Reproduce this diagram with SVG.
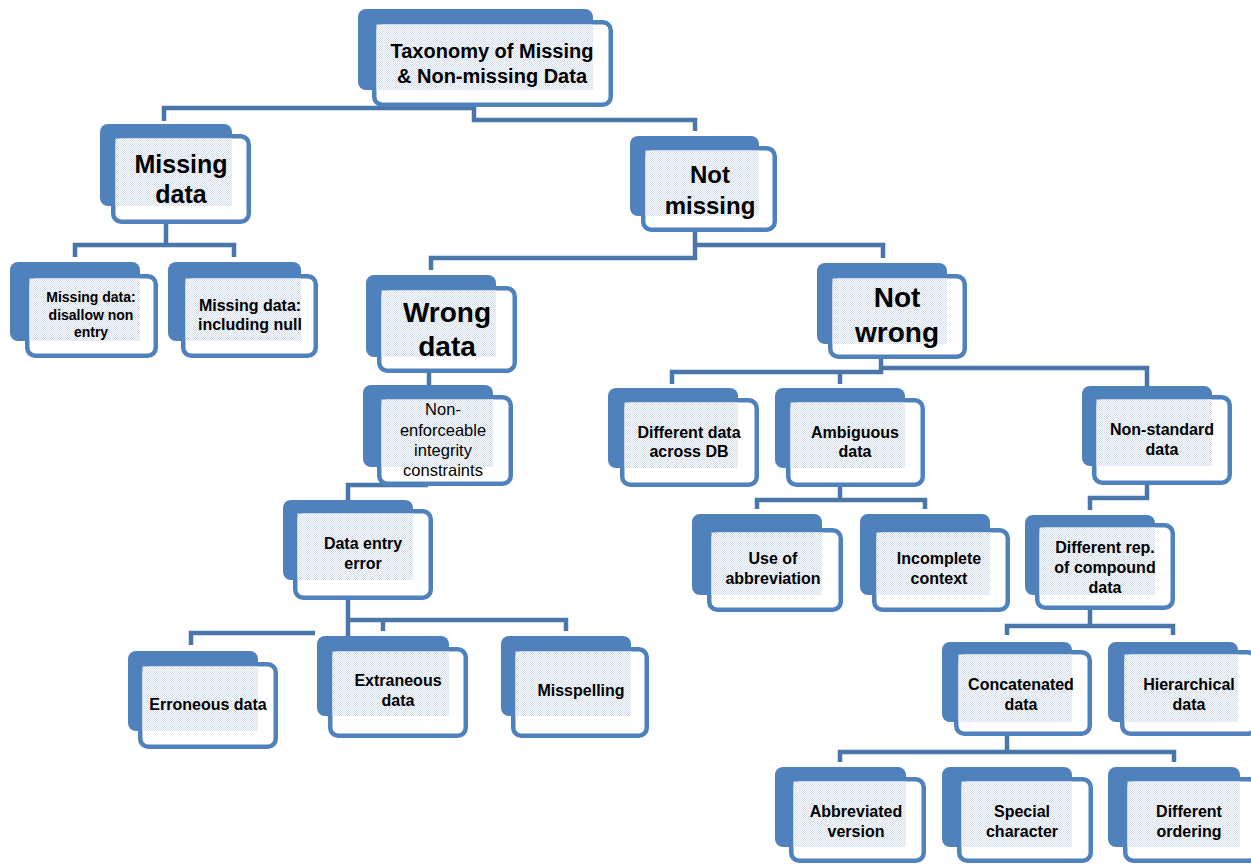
<svg xmlns="http://www.w3.org/2000/svg" width="1251" height="865" viewBox="0 0 1251 865">
<defs>
<pattern id="dots" width="2" height="2" patternUnits="userSpaceOnUse">
<rect width="2" height="2" fill="#ffffff"/>
<rect width="1" height="1" fill="#cfdaeb"/>
<rect x="1" y="1" width="1" height="1" fill="#cfdaeb"/>
</pattern>
<style>
.bk{fill:#4f81bd}
.fr{fill:#ffffff;stroke:#4f81bd;stroke-width:4.5}
.pt{fill:url(#dots)}
.t{font-family:"Liberation Sans",Arial,sans-serif;font-weight:bold;text-anchor:middle;fill:#000}
.r{font-weight:normal}
.c{fill:none;stroke:#4a76aa;stroke-width:4.5;stroke-linejoin:miter}
</style>
</defs>
<rect width="1251" height="865" fill="#ffffff"/>
<g id="connectors">
<path class="c" d="M164,121 V108 H474"/>
<path class="c" d="M474,106 V120 H695 V131"/>
<path class="c" d="M166,222 V245"/>
<path class="c" d="M75,257 V245 H234 V257"/>
<path class="c" d="M695,230 V258 H431 V270"/>
<path class="c" d="M695,245 H883 V258"/>
<path class="c" d="M429,371 V387"/>
<path class="c" d="M881,357 V372 H672 V384"/>
<path class="c" d="M840,372 V384"/>
<path class="c" d="M881,368 H1147 V388"/>
<path class="c" d="M428,485 H348 V502"/>
<path class="c" d="M840,485 V500"/>
<path class="c" d="M757,509 V500 H925 V509"/>
<path class="c" d="M1147,483 V498 H1090 V510"/>
<path class="c" d="M1090,608 V626"/>
<path class="c" d="M1007,635 V626 H1173 V635"/>
<path class="c" d="M1007,734 V752"/>
<path class="c" d="M840,762 V752 H1174 V762"/>
<path class="c" d="M348,598 V638"/>
<path class="c" d="M348,620 H566 V631"/>
<path class="c" d="M383,620 V631"/>
<path class="c" d="M191,645 V633 H315"/>
</g>
<g id="n-root">
<rect class="bk" x="358" y="9" width="235" height="81" rx="8"/>
<rect class="fr" x="374.25" y="22.25" width="236.5" height="82.5" rx="8"/>
<rect class="pt" x="376.5" y="24.5" width="216.5" height="65.5"/>
<text class="t" font-size="20" x="492" y="58">Taxonomy of Missing</text>
<text class="t" font-size="20" x="492" y="83">&amp; Non-missing Data</text>
</g>
<g id="n-missing">
<rect class="bk" x="100" y="124" width="132" height="82" rx="8"/>
<rect class="fr" x="113.25" y="136.25" width="135.5" height="85.5" rx="8"/>
<rect class="pt" x="115.5" y="138.5" width="116.5" height="67.5"/>
<text class="t" font-size="25" x="181" y="173">Missing</text>
<text class="t" font-size="25" x="181" y="203">data</text>
</g>
<g id="n-notmissing">
<rect class="bk" x="630" y="136" width="129" height="80" rx="8"/>
<rect class="fr" x="643.25" y="148.25" width="131.5" height="81.5" rx="8"/>
<rect class="pt" x="645.5" y="150.5" width="113.5" height="65.5"/>
<text class="t" font-size="24" x="710" y="183">Not</text>
<text class="t" font-size="24" x="710" y="214">missing</text>
</g>
<g id="n-disallow">
<rect class="bk" x="10" y="262" width="130" height="79" rx="8"/>
<rect class="fr" x="27.25" y="276.25" width="128.5" height="79.5" rx="8"/>
<rect class="pt" x="29.5" y="278.5" width="110.5" height="62.5"/>
<text class="t" font-size="14" x="91" y="302">Missing data:</text>
<text class="t" font-size="14" x="91" y="320">disallow non</text>
<text class="t" font-size="14" x="91" y="337">entry</text>
</g>
<g id="n-includingnull">
<rect class="bk" x="168" y="262" width="133" height="79" rx="8"/>
<rect class="fr" x="183.25" y="276.25" width="132.5" height="79.5" rx="8"/>
<rect class="pt" x="185.5" y="278.5" width="115.5" height="62.5"/>
<text class="t" font-size="16" x="250" y="311">Missing data:</text>
<text class="t" font-size="16" x="250" y="330">including null</text>
</g>
<g id="n-wrong">
<rect class="bk" x="366" y="275" width="130" height="82" rx="8"/>
<rect class="fr" x="379.25" y="288.25" width="135.5" height="82.5" rx="8"/>
<rect class="pt" x="381.5" y="290.5" width="114.5" height="66.5"/>
<text class="t" font-size="28" x="447" y="322">Wrong</text>
<text class="t" font-size="28" x="447" y="356">data</text>
</g>
<g id="n-notwrong">
<rect class="bk" x="817" y="263" width="130" height="81" rx="8"/>
<rect class="fr" x="830.25" y="276.25" width="134.5" height="80.5" rx="8"/>
<rect class="pt" x="832.5" y="278.5" width="114.5" height="65.5"/>
<text class="t" font-size="28" x="897" y="307">Not</text>
<text class="t" font-size="28" x="897" y="342">wrong</text>
</g>
<g id="n-nonenforceable">
<rect class="bk" x="363" y="385" width="130" height="82" rx="8"/>
<rect class="fr" x="379.25" y="397.25" width="131.5" height="86.5" rx="8"/>
<rect class="pt" x="381.5" y="399.5" width="111.5" height="67.5"/>
<text class="t r" font-size="16.5" x="443" y="415">Non-</text>
<text class="t r" font-size="16.5" x="443" y="436">enforceable</text>
<text class="t r" font-size="16.5" x="443" y="456">integrity</text>
<text class="t r" font-size="16.5" x="443" y="476">constraints</text>
</g>
<g id="n-dataentry">
<rect class="bk" x="283" y="500" width="130" height="80" rx="8"/>
<rect class="fr" x="295.25" y="511.25" width="135.5" height="86.5" rx="8"/>
<rect class="pt" x="297.5" y="513.5" width="115.5" height="66.5"/>
<text class="t" font-size="16" x="363" y="549">Data entry</text>
<text class="t" font-size="16" x="363" y="569">error</text>
</g>
<g id="n-erroneous">
<rect class="bk" x="128" y="651" width="130" height="80" rx="8"/>
<rect class="fr" x="140.25" y="664.25" width="135.5" height="82.5" rx="8"/>
<rect class="pt" x="142.5" y="666.5" width="115.5" height="64.5"/>
<text class="t" font-size="16" x="208" y="710">Erroneous data</text>
</g>
<g id="n-extraneous">
<rect class="bk" x="317" y="636" width="132" height="80" rx="8"/>
<rect class="fr" x="330.25" y="649.25" width="135.5" height="86.5" rx="8"/>
<rect class="pt" x="332.5" y="651.5" width="116.5" height="64.5"/>
<text class="t" font-size="16" x="398" y="686">Extraneous</text>
<text class="t" font-size="16" x="398" y="706">data</text>
</g>
<g id="n-misspelling">
<rect class="bk" x="501" y="636" width="130" height="80" rx="8"/>
<rect class="fr" x="513.25" y="649.25" width="133.5" height="86.5" rx="8"/>
<rect class="pt" x="515.5" y="651.5" width="115.5" height="64.5"/>
<text class="t" font-size="16" x="581" y="696">Misspelling</text>
</g>
<g id="n-differentdata">
<rect class="bk" x="608" y="388" width="130" height="80" rx="8"/>
<rect class="fr" x="622.25" y="400.25" width="134.5" height="84.5" rx="8"/>
<rect class="pt" x="624.5" y="402.5" width="113.5" height="65.5"/>
<text class="t" font-size="16" x="689" y="438">Different data</text>
<text class="t" font-size="16" x="689" y="457">across DB</text>
</g>
<g id="n-ambiguous">
<rect class="bk" x="775" y="388" width="130" height="80" rx="8"/>
<rect class="fr" x="788.25" y="400.25" width="134.5" height="84.5" rx="8"/>
<rect class="pt" x="790.5" y="402.5" width="114.5" height="65.5"/>
<text class="t" font-size="16" x="855" y="438">Ambiguous</text>
<text class="t" font-size="16" x="855" y="457">data</text>
</g>
<g id="n-nonstandard">
<rect class="bk" x="1082" y="386" width="130" height="80" rx="8"/>
<rect class="fr" x="1094.25" y="397.25" width="135.5" height="85.5" rx="8"/>
<rect class="pt" x="1096.5" y="399.5" width="115.5" height="66.5"/>
<text class="t" font-size="16" x="1162" y="435">Non-standard</text>
<text class="t" font-size="16" x="1162" y="455">data</text>
</g>
<g id="n-abbreviation">
<rect class="bk" x="692" y="514" width="130" height="81" rx="8"/>
<rect class="fr" x="709.25" y="530.25" width="131.5" height="79.5" rx="8"/>
<rect class="pt" x="711.5" y="532.5" width="110.5" height="62.5"/>
<text class="t" font-size="16" x="773" y="564">Use of</text>
<text class="t" font-size="16" x="773" y="584">abbreviation</text>
</g>
<g id="n-incomplete">
<rect class="bk" x="860" y="514" width="130" height="81" rx="8"/>
<rect class="fr" x="874.25" y="530.25" width="133.5" height="79.5" rx="8"/>
<rect class="pt" x="876.5" y="532.5" width="113.5" height="62.5"/>
<text class="t" font-size="16" x="939" y="564">Incomplete</text>
<text class="t" font-size="16" x="939" y="584">context</text>
</g>
<g id="n-diffrep">
<rect class="bk" x="1025" y="515" width="130" height="80" rx="8"/>
<rect class="fr" x="1037.25" y="525.25" width="135.5" height="82.5" rx="8"/>
<rect class="pt" x="1039.5" y="527.5" width="115.5" height="67.5"/>
<text class="t" font-size="16" x="1105" y="553">Different rep.</text>
<text class="t" font-size="16" x="1105" y="573">of compound</text>
<text class="t" font-size="16" x="1105" y="593">data</text>
</g>
<g id="n-concatenated">
<rect class="bk" x="942" y="642" width="130" height="80" rx="8"/>
<rect class="fr" x="956.25" y="652.25" width="133.5" height="81.5" rx="8"/>
<rect class="pt" x="958.5" y="654.5" width="113.5" height="67.5"/>
<text class="t" font-size="16" x="1021" y="690">Concatenated</text>
<text class="t" font-size="16" x="1021" y="710">data</text>
</g>
<g id="n-hierarchical">
<rect class="bk" x="1108" y="642" width="130" height="80" rx="8"/>
<rect class="fr" x="1122.25" y="652.25" width="133.5" height="81.5" rx="8"/>
<rect class="pt" x="1124.5" y="654.5" width="113.5" height="67.5"/>
<text class="t" font-size="16" x="1189" y="690">Hierarchical</text>
<text class="t" font-size="16" x="1189" y="710">data</text>
</g>
<g id="n-abbreviated">
<rect class="bk" x="775" y="767" width="131" height="80" rx="8"/>
<rect class="fr" x="791.25" y="779.25" width="132.5" height="81.5" rx="8"/>
<rect class="pt" x="793.5" y="781.5" width="112.5" height="65.5"/>
<text class="t" font-size="16" x="856" y="817">Abbreviated</text>
<text class="t" font-size="16" x="856" y="837">version</text>
</g>
<g id="n-special">
<rect class="bk" x="942" y="767" width="130" height="80" rx="8"/>
<rect class="fr" x="959.25" y="779.25" width="131.5" height="81.5" rx="8"/>
<rect class="pt" x="961.5" y="781.5" width="110.5" height="65.5"/>
<text class="t" font-size="16" x="1022" y="817">Special</text>
<text class="t" font-size="16" x="1022" y="837">character</text>
</g>
<g id="n-ordering">
<rect class="bk" x="1108" y="767" width="132" height="80" rx="8"/>
<rect class="fr" x="1125.25" y="779.25" width="132.5" height="81.5" rx="8"/>
<rect class="pt" x="1127.5" y="781.5" width="112.5" height="65.5"/>
<text class="t" font-size="16" x="1189" y="817">Different</text>
<text class="t" font-size="16" x="1189" y="837">ordering</text>
</g>
</svg>
